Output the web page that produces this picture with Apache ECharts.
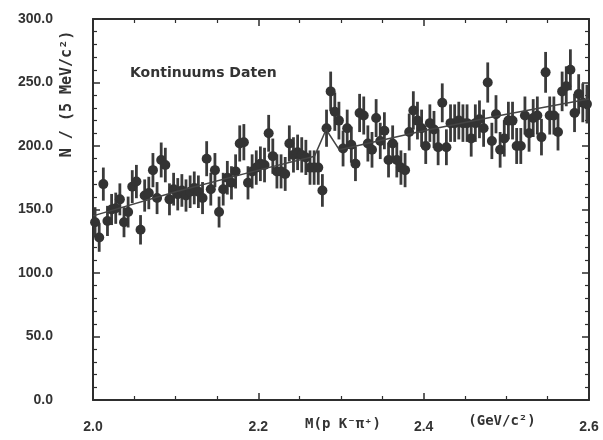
<!DOCTYPE html>
<html>
<head>
<meta charset="utf-8">
<script src="https://cdn.jsdelivr.net/npm/echarts@6/dist/echarts.min.js"></script>
<style>html,body{margin:0;padding:0;background:#fff;}#c{width:603px;height:440px;}</style>
</head>
<body>
<div id="c"></div>
<script>
// Histogram: 5 MeV bins from 2.000 to 2.600 GeV/c^2
const binStart = 2.0;
const binWidth = 0.005;
const counts = [
  140,128,170,141,150,151,158,140,148,168,172,134,161,163,181,159,189,185,158,166,
  162,165,161,164,
  167,164,159,190,166,181,148,166,175,171,180,202,203,171,180,183,
  186,185,210,192,180,180,178,202,193,195,193,191,183,183,183,165,214,243,227,220,198,214,
  201,186,226,224,202,197,222,204,212,189,202,189,183,181,211,228,220,214,200,218,213,
  199,234,199,218,218,220,218,218,206,218,221,214,250,204,225,197,206,220,220,200,200,
  224,210,222,224,207,258,224,224,211,243,247,260,226,241,234,233
];
// Fit curve (background + signal)
const fitX = [2.0, 2.1, 2.2, 2.268, 2.282, 2.298, 2.4, 2.5, 2.6];
const fitY = [145, 164, 181, 192, 213, 197, 212, 225, 237];
const yTicks = [0, 50, 100, 150, 200, 250, 300];
const xTickLabels = ['2.0', '2.2', '2.4', '2.6'];

const pts = counts.map((n, i) => [binStart + binWidth * (i + 0.5), n, Math.sqrt(n)]);
const fit = fitX.map((x, i) => [x, fitY[i]]);

const ink = '#2e2e2e';
const chart = echarts.init(document.getElementById('c'), null, {renderer: 'canvas'});
const baseX = {
  type: 'value', min: 2.0, max: 2.6, interval: 0.2,
  axisLine: {show: true, onZero: false, lineStyle: {color: ink, width: 2}},
  axisTick: {show: true, inside: true, length: 7, lineStyle: {color: ink, width: 1.5}},
  minorTick: {show: true, splitNumber: 4, length: 4, lineStyle: {color: ink, width: 1.2}},
  splitLine: {show: false}
};
const baseY = {
  type: 'value', min: 0, max: 300, interval: 50,
  axisLine: {show: true, onZero: false, lineStyle: {color: ink, width: 2}},
  axisTick: {show: true, inside: true, length: 7, lineStyle: {color: ink, width: 1.5}},
  minorTick: {show: true, splitNumber: 5, length: 4, lineStyle: {color: ink, width: 1.2}},
  splitLine: {show: false}
};
const labelFont = {fontFamily: 'Liberation Sans', fontSize: 14, color: '#333', fontWeight: 'bold'};

chart.setOption({
  animation: false,
  backgroundColor: '#fff',
  grid: {left: 93, right: 14, top: 19, bottom: 40},
  xAxis: [
    Object.assign({}, baseX, {
      position: 'bottom',
      axisLabel: Object.assign({
        margin: 20,
        formatter: v => {
          const s = v.toFixed(1);
          return xTickLabels.indexOf(s) >= 0 ? s : '';
        }
      }, labelFont)
    }),
    Object.assign({}, baseX, {position: 'top', axisLabel: {show: false}})
  ],
  yAxis: [
    Object.assign({}, baseY, {
      position: 'left',
      axisLabel: Object.assign({
        margin: 40,
        formatter: v => yTicks.indexOf(v) >= 0 ? v.toFixed(1) : ''
      }, labelFont)
    }),
    Object.assign({}, baseY, {position: 'right', axisLabel: {show: false}})
  ],
  graphic: [
    {type: 'text', left: 130, top: 66, style: {text: 'Kontinuums Daten', font: 'bold 14px "DejaVu Sans"', fill: '#333'}},
    {type: 'text', x: 67, y: 94, rotation: Math.PI / 2,
      style: {text: 'N / (5 MeV/c²)', font: 'bold 15px "DejaVu Sans Mono"', fill: '#333', align: 'center', verticalAlign: 'middle'}},
    {type: 'text', x: 343, y: 424, style: {text: 'M(p K⁻π⁺)', font: 'bold 14px "DejaVu Sans Mono"', fill: '#333', align: 'center', verticalAlign: 'middle'}},
    {type: 'text', x: 502, y: 421, style: {text: '(GeV/c²)', font: 'bold 14px "DejaVu Sans Mono"', fill: '#333', align: 'center', verticalAlign: 'middle'}}
  ],
  series: [
    {
      type: 'custom',
      xAxisIndex: 0, yAxisIndex: 0,
      data: pts,
      renderItem: function (params, api) {
        const x = api.value(0), y = api.value(1), e = api.value(2);
        const lo = api.coord([x, y - e]);
        const hi = api.coord([x, y + e]);
        return {
          type: 'line',
          shape: {x1: lo[0], y1: lo[1], x2: hi[0], y2: hi[1]},
          style: {stroke: '#3a3a3a', lineWidth: 2.8}
        };
      },
      z: 2
    },
    {
      type: 'scatter',
      xAxisIndex: 0, yAxisIndex: 0,
      data: pts.map(p => [p[0], p[1]]),
      symbol: 'circle', symbolSize: 10,
      itemStyle: {color: '#333', opacity: 1},
      z: 3
    },
    {
      type: 'line',
      xAxisIndex: 0, yAxisIndex: 0,
      data: fit,
      symbol: 'none',
      lineStyle: {color: '#444', width: 1.5},
      z: 4
    }
  ]
});
</script>
</body>
</html>
